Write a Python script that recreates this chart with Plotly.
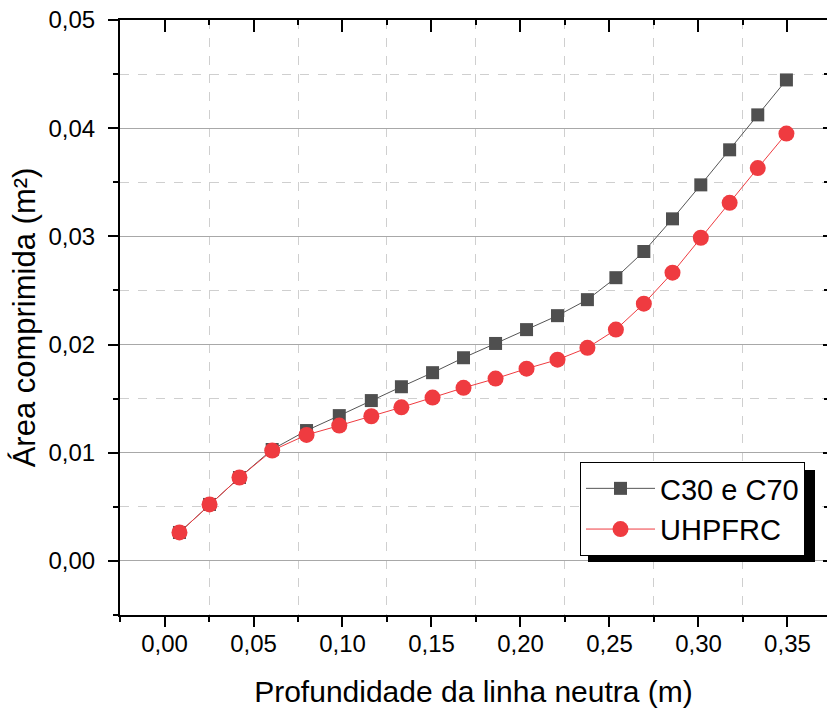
import plotly.graph_objects as go

# Data
depth = [0.0084, 0.0253, 0.0421, 0.0605, 0.0798, 0.0982, 0.1162, 0.1331, 0.1506,
         0.1680, 0.1860, 0.2034, 0.2208, 0.2376, 0.2536, 0.2693, 0.2854, 0.3013,
         0.3175, 0.3333, 0.3494]
area_c30_c70 = [0.00263, 0.00522, 0.00771, 0.01030, 0.01205, 0.01343, 0.01482, 0.01610,
                0.01740, 0.01878, 0.02010, 0.02138, 0.02267, 0.02415, 0.02618, 0.02860,
                0.03162, 0.03476, 0.03800, 0.04123, 0.04446]
area_uhpfrc = [0.00263, 0.00522, 0.00771, 0.01020, 0.01165, 0.01251, 0.01337, 0.01420,
               0.01510, 0.01600, 0.01685, 0.01777, 0.01860, 0.01970, 0.02138, 0.02378,
               0.02664, 0.02987, 0.03310, 0.03631, 0.03950]

series_names = ["C30 e C70", "UHPFRC"]
x_title = "Profundidade da linha neutra (m)"
y_title = "Área comprimida (m²)"

X_RANGE = [-0.025, 0.3722]
Y_RANGE = [-0.005, 0.05]

FONT = "Arial, Liberation Sans, sans-serif"

fig = go.Figure()
fig.add_trace(go.Scatter(
    x=depth, y=area_c30_c70, name=series_names[0], mode="lines+markers",
    line=dict(color="#555555", width=1),
    marker=dict(symbol="square", size=13, color="#4f4f4f"),
))
fig.add_trace(go.Scatter(
    x=depth, y=area_uhpfrc, name=series_names[1], mode="lines+markers",
    line=dict(color="#ef3b40", width=1),
    marker=dict(symbol="circle", size=16, color="#ef3b40"),
))
# empty trace to carry the mirrored (top/right) axes
fig.add_trace(go.Scatter(x=[], y=[], xaxis="x2", yaxis="y2", showlegend=False,
                         hoverinfo="skip"))

fig.update_layout(
    width=827, height=708,
    margin=dict(l=120, r=0, t=20, b=93),
    paper_bgcolor="white", plot_bgcolor="white",
    separators=",.",
    font=dict(family=FONT, color="black", size=24),
    xaxis=dict(
        range=X_RANGE, tick0=0, dtick=0.05, tickformat=".2f",
        ticks="outside", ticklen=10, tickwidth=2, tickcolor="black",
        showline=True, linewidth=2, linecolor="black",
        showgrid=False, zeroline=False, automargin=False,
        tickfont=dict(size=24), ticklabelstandoff=-4,
        title=dict(text=x_title, font=dict(size=30), standoff=26),
        minor=dict(dtick=0.025, tick0=0, ticks="outside", ticklen=5, tickwidth=2,
                   tickcolor="black", showgrid=True, griddash="dash",
                   gridcolor="#cfcfcf", gridwidth=1),
    ),
    yaxis=dict(
        range=Y_RANGE, tick0=0, dtick=0.01, tickformat=".2f",
        ticks="outside", ticklen=10, tickwidth=2, tickcolor="black",
        showline=True, linewidth=2, linecolor="black",
        showgrid=True, gridcolor="#a8a8a8", gridwidth=1, zeroline=False,
        automargin=False,
        tickfont=dict(size=24), ticklabelstandoff=8,
        title=dict(text=y_title, font=dict(size=31), standoff=4),
        minor=dict(dtick=0.005, tick0=0, ticks="outside", ticklen=5, tickwidth=2,
                   tickcolor="black", showgrid=True, griddash="dash",
                   gridcolor="#cfcfcf", gridwidth=1),
    ),
    xaxis2=dict(
        overlaying="x", side="top", range=X_RANGE, tick0=0, dtick=0.05,
        ticks="inside", ticklen=12, tickwidth=2, tickcolor="black",
        showline=True, linewidth=2, linecolor="black",
        showticklabels=False, showgrid=False, zeroline=False,
        minor=dict(dtick=0.025, tick0=0, ticks="inside", ticklen=5, tickwidth=2,
                   tickcolor="black", showgrid=False),
    ),
    yaxis2=dict(
        overlaying="y", side="right", range=Y_RANGE, tick0=0, dtick=0.01,
        ticks="inside", ticklen=4, tickwidth=2, tickcolor="black",
        showline=False, showticklabels=False, showgrid=False, zeroline=False,
        minor=dict(dtick=0.005, tick0=0, ticks="inside", ticklen=3, tickwidth=2,
                   tickcolor="black", showgrid=False),
    ),
    legend=dict(
        x=(580 - 120) / 707, y=(615 - 462) / 595, xanchor="left", yanchor="top",
        bgcolor="white", bordercolor="black", borderwidth=1,
        font=dict(size=29, family=FONT), itemwidth=69, tracegroupgap=0,
    ),
    shapes=[dict(
        type="rect", xref="paper", yref="paper", layer="above",
        x0=(588 - 120) / 707, x1=(815 - 120) / 707,
        y0=(615 - 562) / 595, y1=(615 - 470) / 595,
        fillcolor="black", line=dict(width=0),
    )],
    showlegend=True,
)

fig.write_html("out.html")
